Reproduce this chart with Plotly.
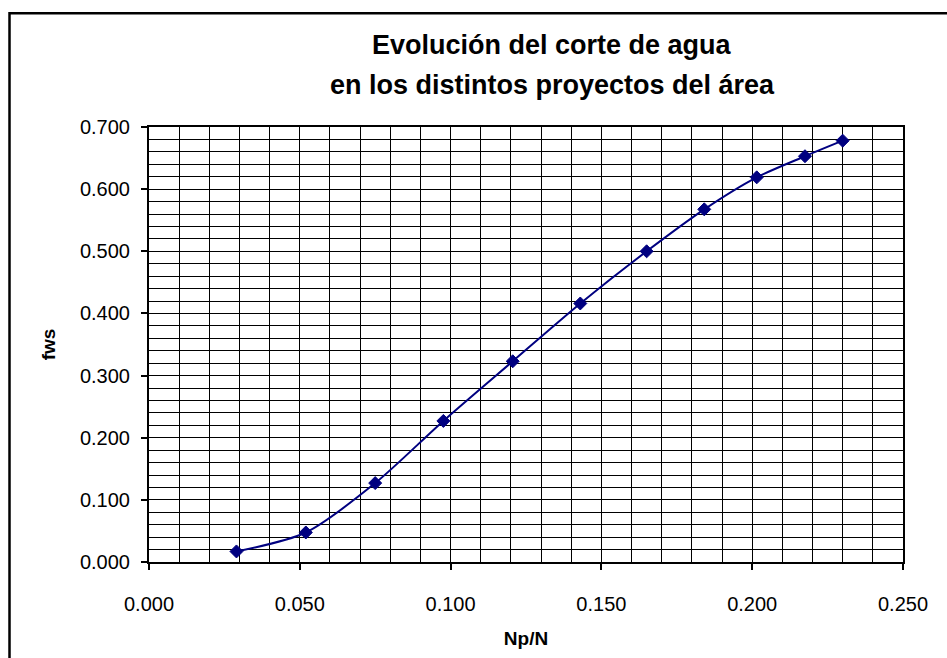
import plotly.graph_objects as go

# Data
np_n = [0.029, 0.052, 0.075, 0.0976, 0.1206, 0.143, 0.165, 0.1841, 0.2015, 0.2175, 0.230]
fws = [0.017, 0.0475, 0.127, 0.227, 0.323, 0.416, 0.500, 0.5675, 0.619, 0.653, 0.678]

title_line1 = "Evolución del corte de agua"
title_line2 = "en los distintos proyectos del área"
x_title = "Np/N"
y_title = "fws"

W, H = 947, 658
L, R, T, B = 149, 44, 127, 89
pw, ph = W - L - R, H - T - B

def px_x(p):
    return (p - L) / pw

def px_y(p):
    return (H - B - p) / ph

FONT = "Arial, Liberation Sans, sans-serif"
NAVY = "#000080"

fig = go.Figure()
fig.add_trace(go.Scatter(
    x=np_n, y=fws, mode="lines+markers",
    line=dict(color=NAVY, width=2, shape="spline", smoothing=0.8),
    marker=dict(symbol="diamond", size=10, color=NAVY, line=dict(color=NAVY, width=1)),
    showlegend=False,
))

axis_common = dict(
    showline=True, linecolor="black", linewidth=2, mirror=True,
    showgrid=True, gridcolor="black", gridwidth=1,
    ticks="outside", ticklen=6, tickwidth=2, tickcolor="black",
    tickformat=".3f", zeroline=False,
    tickfont=dict(family=FONT, size=20, color="black"),
)

fig.update_xaxes(
    range=[0, 0.25], dtick=0.05, tick0=0,
    minor=dict(dtick=0.01, showgrid=True, gridcolor="black", gridwidth=1, ticks=""),
    ticklabelstandoff=17,
    title=dict(text="<b>" + x_title + "</b>", font=dict(family=FONT, size=19, color="black"), standoff=18),
    **axis_common,
)
fig.update_yaxes(
    range=[0, 0.7], dtick=0.1, tick0=0,
    minor=dict(dtick=0.02, showgrid=True, gridcolor="black", gridwidth=1, ticks=""),
    ticklabelstandoff=7,
    title=dict(text="<b>" + y_title + "</b>", font=dict(family=FONT, size=19, color="black"), standoff=19),
    **axis_common,
)

fig.add_annotation(
    text="<b>" + title_line1 + "</b>", xref="paper", yref="paper",
    x=px_x(552), y=px_y(44), xanchor="center", yanchor="middle", showarrow=False,
    font=dict(family=FONT, size=27, color="black"),
)
fig.add_annotation(
    text="<b>" + title_line2 + "</b>", xref="paper", yref="paper",
    x=px_x(552), y=px_y(84), xanchor="center", yanchor="middle", showarrow=False,
    font=dict(family=FONT, size=27, color="black"),
)

# outer chart frame (left and top edges visible, rest cropped)
fig.add_shape(
    type="rect", xref="paper", yref="paper",
    x0=px_x(9.5), y0=px_y(H + 20), x1=px_x(W + 20), y1=px_y(11.5),
    line=dict(color="black", width=2.5), fillcolor="rgba(0,0,0,0)", layer="below",
)

fig.update_layout(
    width=W, height=H,
    margin=dict(l=L, r=R, t=T, b=B),
    paper_bgcolor="white", plot_bgcolor="white",
    font=dict(family=FONT, color="black"),
)

fig.write_html("out.html")
